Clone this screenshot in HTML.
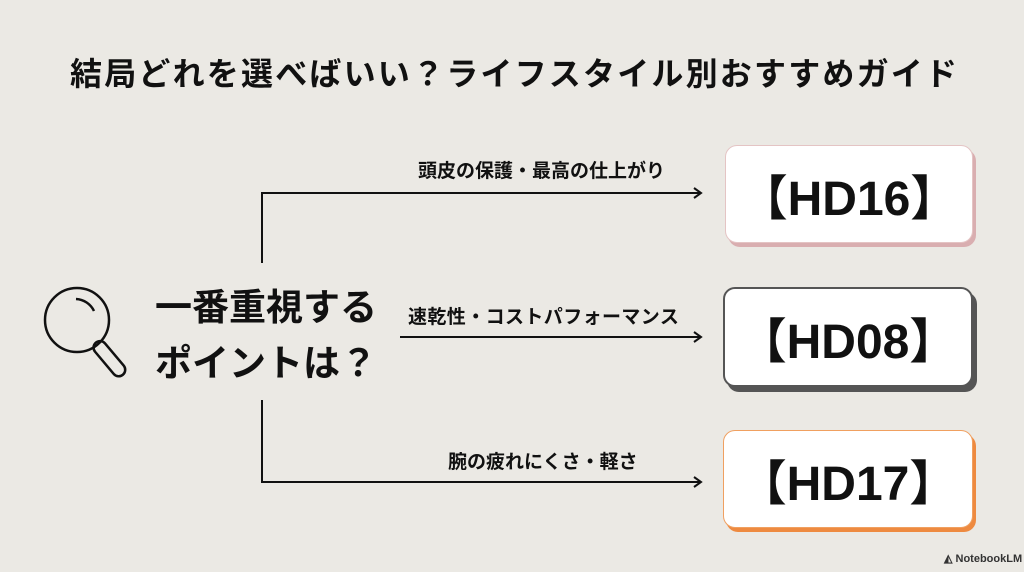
<!DOCTYPE html>
<html><head><meta charset="utf-8"><style>
body{margin:0;width:1024px;height:572px;background:#ebe9e4;position:relative;overflow:hidden;font-family:"Liberation Sans","Noto Sans CJK JP",sans-serif;color:#111}
.t{position:absolute;white-space:nowrap}
.l{font-size:19px;font-weight:bold;line-height:22px}
.box{position:absolute;background:#fff;border-radius:12px;box-sizing:border-box;display:flex;align-items:center;justify-content:center;font-weight:bold;font-size:48px;font-family:"Liberation Sans","Noto Sans CJK JP",sans-serif}
</style></head><body>
<div class="t" style="left:70px;top:54px;font-size:32px;font-weight:bold;letter-spacing:2.2px;line-height:40px">結局どれを選べばいい？ライフスタイル別おすすめガイド</div>
<svg width="1024" height="572" style="position:absolute;left:0;top:0">
<g stroke="#111" stroke-width="2" fill="none">
<polyline points="262,263 262,193 700,193"/>
<line x1="400" y1="337" x2="700" y2="337"/>
<polyline points="262,400 262,482 700,482"/>
<polyline points="694,188 701,193 694,198"/>
<polyline points="694,332 701,337 694,342"/>
<polyline points="694,477 701,482 694,487"/>
</g>
<g stroke="#111" stroke-width="2.5" fill="none">
<circle cx="77" cy="320" r="32"/>
<path d="M76,299 a21,21 0 0 1 18,12"/>
<rect x="103" y="338" width="13" height="42" rx="6.5" transform="rotate(-40 109 359)"/>
</g>
</svg>
<div class="t" style="left:155px;top:280px;font-size:37px;font-weight:bold;line-height:56px">一番重視する<br>ポイントは？</div>
<div class="t l" style="left:418px;top:161px">頭皮の保護・最高の仕上がり</div>
<div class="t l" style="left:408px;top:307px;letter-spacing:0.4px">速乾性・コストパフォーマンス</div>
<div class="t l" style="left:448px;top:452px">腕の疲れにくさ・軽さ</div>
<div class="box" style="left:725px;top:145px;width:248px;height:98px;border:1px solid #e4c4c4;box-shadow:3px 4px 0 #d9aeb0">【HD16】</div>
<div class="box" style="left:723px;top:287px;width:250px;height:100px;border:2px solid #555;box-shadow:4px 5px 0 #555">【HD08】</div>
<div class="box" style="left:723px;top:430px;width:250px;height:98px;border:1px solid #f0a060;box-shadow:3px 4px 0 #ee8a40">【HD17】</div>
<div class="t" style="left:944px;top:552px;font-size:11px;font-weight:bold;color:#333">◭ NotebookLM</div>
</body></html>
